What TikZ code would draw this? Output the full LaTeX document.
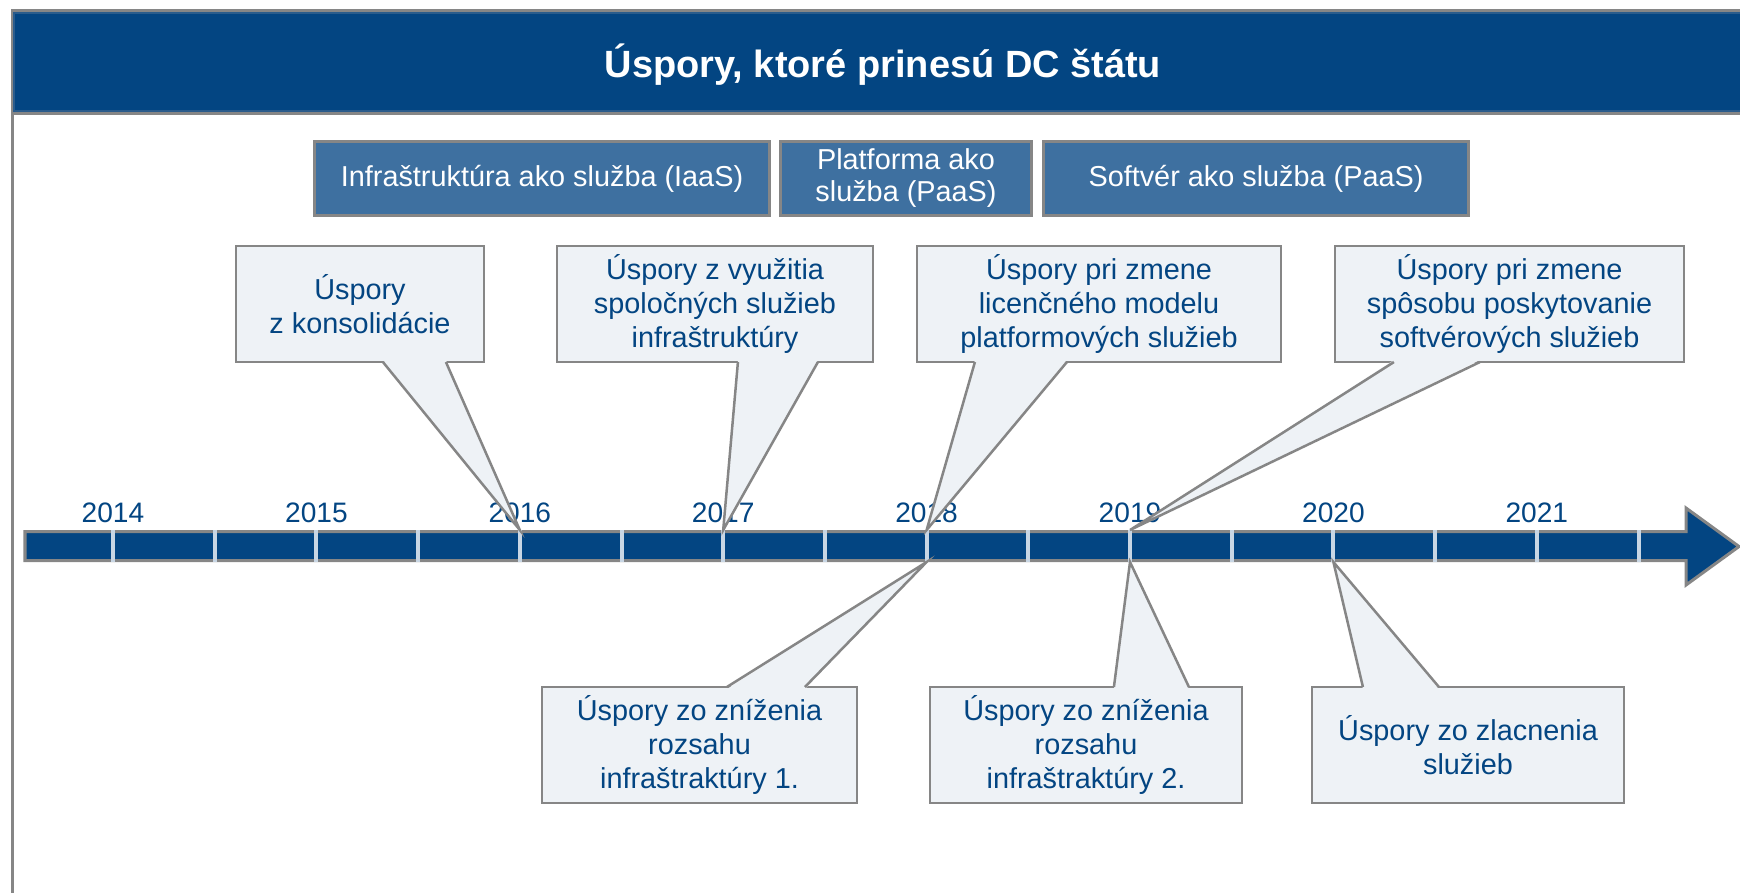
\documentclass[tikz,border=0pt]{standalone}
\usepackage{fontspec}
\setmainfont{Liberation Sans}
\usetikzlibrary{calc}
\definecolor{dcblue}{RGB}{3,69,130}
\definecolor{bandrim}{RGB}{42,92,140}
\definecolor{svcblue}{RGB}{62,112,160}
\definecolor{bubble}{RGB}{238,242,246}
\definecolor{rim}{RGB}{134,134,134}
\definecolor{tickline}{RGB}{200,214,228}
\tikzset{
	svcbox/.style={fill=svcblue, draw=rim, line width=0.03cm, text=white, align=center,
		inner sep=0pt, outer sep=0pt, minimum height=0.73cm, font=\fontsize{8.2}{9.1}\selectfont},
	bubblebox/.style={fill=bubble, draw=rim, line width=0.025cm, text=dcblue, align=center,
		inner sep=0pt, outer sep=0pt, minimum height=1.16cm, font=\fontsize{8.2}{9.7}\selectfont},
	yearlbl/.style={text=dcblue, anchor=base, inner sep=0pt, font=\fontsize{8}{9.6}\selectfont},
	pointerline/.style={draw=rim, line width=0.025cm},
}
\begin{document}
\begin{tikzpicture}[x=0.01cm, y=-0.01cm]
		\useasboundingbox (0,0) rectangle (1740,893);
		\def\xa{113}%prvá značka na osi
		\def\dx{101.7}%polrok
		% rám a nadpis
		\draw[rim, line width=0.03cm] (1740,10.5) -- (12.5,10.5) -- (12.5,893);
		\filldraw[fill=dcblue, draw=bandrim, line width=0.02cm] (14,13) rectangle (1750,111);
		\draw[rim, line width=0.03cm] (12.5,113.5) -- (1740,113.5);
		\node[anchor=base, text=white, font=\bfseries\fontsize{10.8}{13}\selectfont] (title) at (883,77) {Úspory, ktoré prinesú DC štátu};
		% modely služieb
		\node[svcbox, minimum width=4.54cm] (iaas) at (542,178.5) {Infraštruktúra ako služba (IaaS)};
		\node[svcbox, minimum width=2.50cm] (paas) at (906,178.5) {Platforma ako\\služba (PaaS)};
		\node[svcbox, minimum width=4.24cm] (saas) at (1256,178.5) {Softvér ako služba (PaaS)};
		% časová os
		\foreach \i in {0,...,7}{
			\pgfmathsetmacro{\xy}{\xa+2*\i*\dx}
			\pgfmathtruncatemacro{\yr}{2014+\i}
			\node[yearlbl] (y\yr) at (\xy,522) {\yr};
			\coordinate (top\yr) at (\xy,530);
			\coordinate (bot\yr) at (\xy,562);
		}
		\filldraw[fill=dcblue, draw=rim, line width=0.03cm] (25,531.5) -- (1686,531.5) -- (1686,508)
			-- (1739,546.5) -- (1686,585) -- (1686,560.5) -- (25,560.5) -- cycle;
		\foreach \k in {0,...,15}{
			\pgfmathsetmacro{\xt}{\xa+\k*\dx}
			\draw[tickline, line width=0.04cm] (\xt,530) -- (\xt,562);
		}
		% bubliny nad osou
		\node[bubblebox, minimum width=2.48cm] (c1) at (360,304) {Úspory\\z konsolidácie};
		\node[bubblebox, minimum width=3.16cm] (c2) at (715,304) {Úspory z využitia\\spoločných služieb\\infraštruktúry};
		\node[bubblebox, minimum width=3.64cm] (c3) at (1099,304) {Úspory pri zmene\\licenčného modelu\\platformových služieb};
		\node[bubblebox, minimum width=3.49cm] (c4) at (1509.5,304) {Úspory pri zmene\\spôsobu poskytovanie\\softvérových služieb};
		\foreach \nm/\pa/\pb/\tp in {c1/147/210/top2016, c2/181/261/top2017, c3/58/150/top2018, c4/59/145/top2019}{
			\fill[bubble] ($(\nm.south west)+(\pa,-2)$) -- (\tp) -- ($(\nm.south west)+(\pb,-2)$) -- cycle;
			\draw[pointerline] ($(\nm.south west)+(\pa,0)$) -- (\tp) -- ($(\nm.south west)+(\pb,0)$);
		}
		% bubliny pod osou
		\node[bubblebox, minimum width=3.15cm] (b1) at (699.5,745) {Úspory zo zníženia\\rozsahu\\infraštraktúry 1.};
		\node[bubblebox, minimum width=3.12cm] (b2) at (1086,745) {Úspory zo zníženia\\rozsahu\\infraštraktúry 2.};
		\node[bubblebox, minimum width=3.12cm] (b3) at (1468,745) {Úspory zo zlacnenia\\služieb};
		\foreach \nm/\pa/\pb/\tp in {b1/185/263/bot2018, b2/184/259/bot2019, b3/51/127/bot2020}{
			\fill[bubble] ($(\nm.north west)+(\pa,2)$) -- (\tp) -- ($(\nm.north west)+(\pb,2)$) -- cycle;
			\draw[pointerline] ($(\nm.north west)+(\pa,0)$) -- (\tp) -- ($(\nm.north west)+(\pb,0)$);
		}
\end{tikzpicture}
\end{document}
